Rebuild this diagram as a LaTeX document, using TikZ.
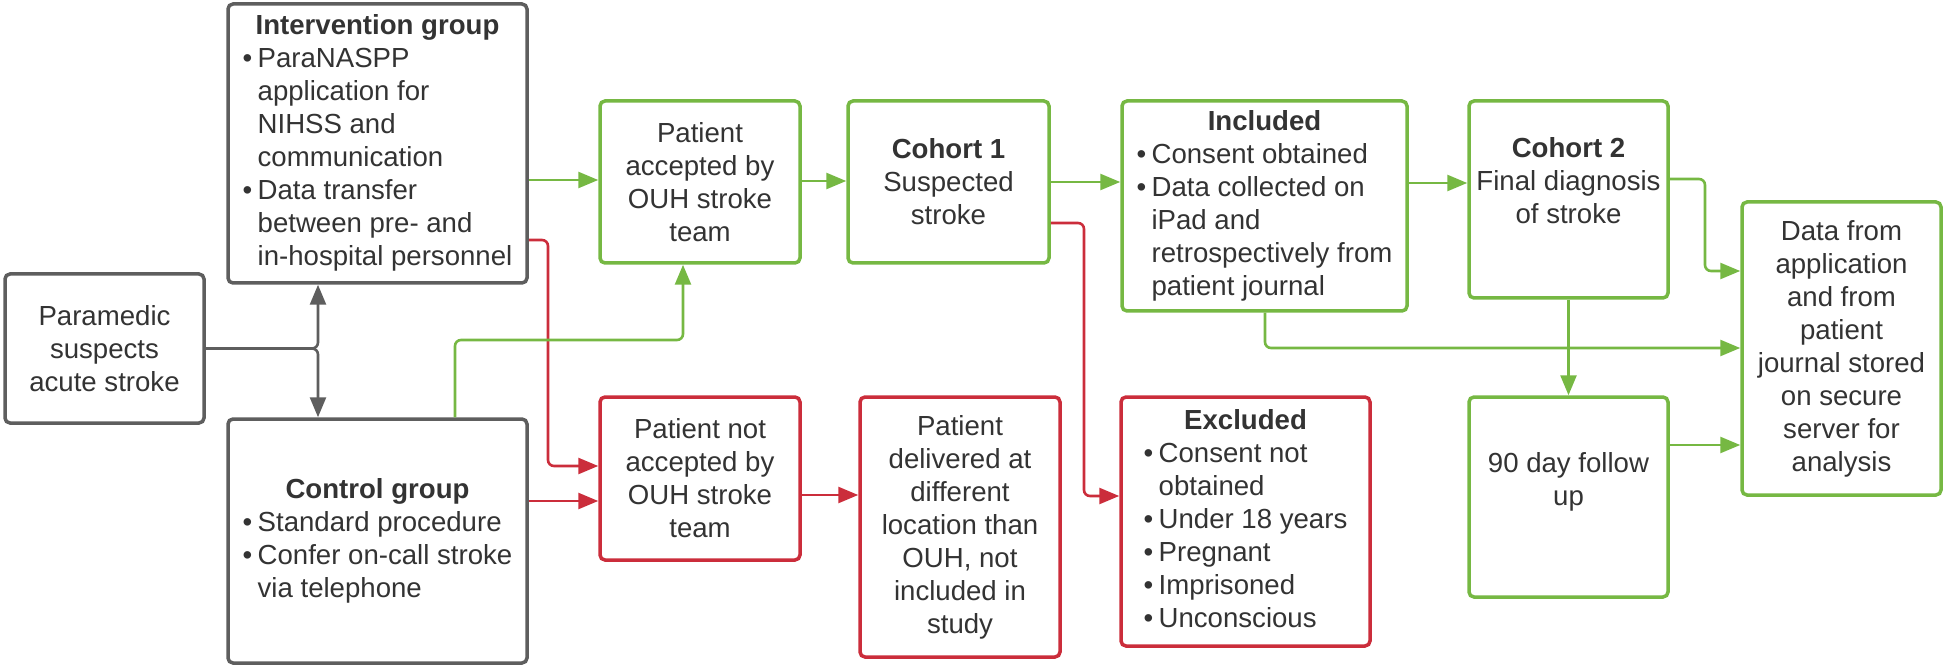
\documentclass[tikz,border=0pt]{standalone}
\usepackage{fontspec}
\setmainfont{Liberation Sans}
\usetikzlibrary{arrows.meta}
\definecolor{grn}{HTML}{76B843}
\definecolor{rd}{HTML}{CB2D3B}
\definecolor{gry}{HTML}{5E5E5E}
\definecolor{txt}{HTML}{333333}
\newcommand{\bl}{\makebox[15pt][l]{•}}
\newcommand{\ind}{\hspace*{15pt}}
\newcommand{\ttl}[1]{\multicolumn{1}{@{}c@{}}{\textbf{#1}}}
\tikzset{
  box/.style={draw, rounded corners=5pt, line width=3.5pt, inner sep=0pt, align=center,
    text=txt, fill=white, font=\fontsize{27.6}{33}\selectfont},
  gbox/.style={box, draw=grn},
  rbox/.style={box, draw=rd},
  kbox/.style={box, draw=gry},
  conn/.style={line width=2.6pt, rounded corners=6pt, -{Triangle[length=20pt,width=16pt]}},
  gconn/.style={conn, draw=grn},
  rconn/.style={conn, draw=rd},
  kconn/.style={conn, draw=gry},
}
\begin{document}
\begin{tikzpicture}[x=1pt,y=-1pt]
\useasboundingbox (0,0) rectangle (1946,668);
% boxes
\node[kbox, minimum width=199pt, minimum height=149pt] (para) at (104.5,348.5)
  {Paramedic\\suspects\\acute stroke};
\node[kbox, minimum width=299pt, minimum height=279pt] (interv) at (377.5,143.5)
  {\begin{tabular}{@{}l@{}}\ttl{Intervention group}\\ \bl ParaNASPP\\ \ind application for\\ \ind NIHSS and\\ \ind communication\\ \bl Data transfer\\ \ind between pre- and\\ \ind in-hospital personnel\end{tabular}};
\node[kbox, minimum width=299pt, minimum height=244pt] (control) at (377.5,541)
  {\begin{tabular}{@{}l@{}}\ttl{Control group}\\ \bl Standard procedure\\ \bl Confer on-call stroke\\ \ind via telephone\end{tabular}};
\node[gbox, minimum width=200pt, minimum height=162pt] (pa) at (700,182)
  {Patient\\accepted by\\OUH stroke\\team};
\node[rbox, minimum width=200pt, minimum height=163pt] (pna) at (700,478.5)
  {Patient not\\accepted by\\OUH stroke\\team};
\node[gbox, minimum width=201pt, minimum height=162pt] (c1) at (948.5,182)
  {\textbf{Cohort 1}\\Suspected\\stroke};
\node[rbox, minimum width=200pt, minimum height=260pt] (deliv) at (960,527)
  {Patient\\delivered at\\different\\location than\\OUH, not\\included in\\study};
\node[gbox, minimum width=285pt, minimum height=210pt] (incl) at (1264.5,206)
  {\begin{tabular}{@{}l@{}}\ttl{Included}\\ \bl Consent obtained\\ \bl Data collected on\\ \ind iPad and\\ \ind retrospectively from\\ \ind patient journal\end{tabular}};
\node[rbox, minimum width=249pt, minimum height=249pt] (excl) at (1245.5,521.5)
  {\begin{tabular}{@{}l@{}}\ttl{Excluded}\\ \bl Consent not\\ \ind obtained\\ \bl Under 18 years\\ \bl Pregnant\\ \bl Imprisoned\\ \bl Unconscious\end{tabular}};
\node[gbox, minimum width=199pt, minimum height=197pt] (c2) at (1568.5,199.5)
  {\textbf{Cohort 2}\\Final diagnosis\\of stroke\\[4pt]};
\node[gbox, minimum width=199pt, minimum height=200pt] (fu) at (1568.5,497)
  {90 day follow\\up\\[4pt]};
\node[gbox, minimum width=199pt, minimum height=293pt] (data) at (1841.5,348.5)
  {Data from\\application\\and from\\patient\\journal stored\\on secure\\server for\\analysis};
% connectors
\coordinate (j) at (318,348.5);
\draw[kconn] (para.east) -| (j |- interv.south);
\draw[kconn] (para.east) -| (j |- control.north);
\draw[gconn] (interv.east |- 0,180) -- (pa.west |- 0,180);
\draw[rconn] (interv.east |- 0,240) -| (548,466) -- (pna.west |- 0,466);
\draw[rconn] (control.east |- 0,501) -- (pna.west |- 0,501);
\draw[gconn] (control.north -| 455,0) |- (683,340) -- (pa.south -| 683,0);
\draw[gconn] (pa.east |- 0,181) -- (c1.west |- 0,181);
\draw[rconn] (pna.east |- 0,495) -- (deliv.west |- 0,495);
\draw[gconn] (c1.east |- 0,182) -- (incl.west |- 0,182);
\draw[rconn] (c1.east |- 0,223) -| (1084,496) -- (excl.west |- 0,496);
\draw[gconn] (incl.east |- 0,183) -- (c2.west |- 0,183);
\draw[gconn] (incl.south -| 1265,0) |- (data.west |- 0,348);
\draw[gconn] (c2.east |- 0,179) -| (1705,271) -- (data.west |- 0,271);
\draw[gconn] (c2.south) -- (fu.north);
\draw[gconn] (fu.east |- 0,445) -- (data.west |- 0,445);
\end{tikzpicture}
\end{document}
